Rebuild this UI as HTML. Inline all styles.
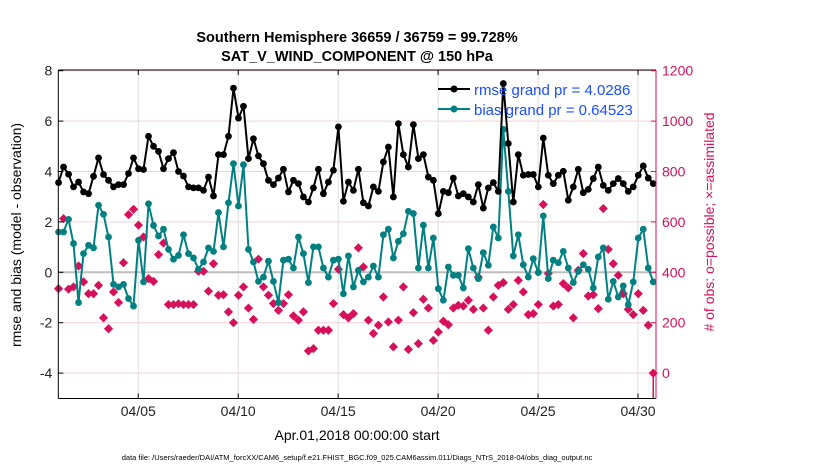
<!DOCTYPE html>
<html><head><meta charset="utf-8"><style>
body{margin:0;background:#fff;}
svg{display:block;font-family:"Liberation Sans",sans-serif;}
</style></head><body>
<svg id="chart" width="830" height="470" viewBox="0 0 830 470" xmlns="http://www.w3.org/2000/svg">
<rect width="830" height="470" fill="#fff"/>
<text x="357" y="42" text-anchor="middle" font-size="14.5" font-weight="bold">Southern Hemisphere 36659 / 36759 = 99.728%</text>
<text x="357" y="61" text-anchor="middle" font-size="14.5" font-weight="bold">SAT_V_WIND_COMPONENT @ 150 hPa</text>
<g id="grid"></g>
<g id="marks"></g>
<g id="axes"></g>
<text transform="translate(21,235) rotate(-90)" text-anchor="middle" font-size="14">rmse and bias (model - observation)</text>
<text transform="translate(714,222) rotate(-90)" text-anchor="middle" font-size="14" fill="#d6105a"># of obs: o=possible; ×=assimilated</text>
<text x="357" y="440" text-anchor="middle" font-size="14">Apr.01,2018 00:00:00 start</text>
<text x="357" y="460" text-anchor="middle" font-size="7.5">data file: /Users/raeder/DAI/ATM_forcXX/CAM6_setup/f.e21.FHIST_BGC.f09_025.CAM6assim.011/Diags_NTrS_2018-04/obs_diag_output.nc</text>
<g>
<line x1="438" y1="89" x2="470" y2="89" stroke="#000" stroke-width="2"/>
<circle cx="454" cy="89" r="3.5" fill="#000"/>
<text x="474" y="95" font-size="15" fill="#1a4dff">rmse grand pr = 4.0286</text>
<line x1="438" y1="109" x2="470" y2="109" stroke="#008080" stroke-width="2"/>
<circle cx="454" cy="109" r="3.5" fill="#008080"/>
<text x="474" y="115" font-size="15" fill="#1a4dff">bias grand pr = 0.64523</text>
</g>
</svg>
<script>
const rmse = [3.56,4.18,3.89,3.39,3.58,3.19,3.12,3.81,4.54,3.88,3.65,3.39,3.48,3.48,3.92,4.54,4.11,4.08,5.40,5.0,4.80,4.11,4.51,4.75,4.0,3.82,3.39,3.35,3.35,
3.25,3.78,3.03,4.67,4.67,5.40,7.31,6.12,6.59,4.51,5.30,4.62,4.31,3.65,3.48,3.74,4.09,3.19,3.65,3.52,2.99,2.79,3.35,4.09,3.12,3.58,4.05,5.77,2.82,3.58,
3.25,4.09,2.76,2.63,3.39,3.21,4.38,4.97,2.99,5.90,4.67,4.18,5.86,4.51,4.67,3.78,3.65,2.33,3.21,3.16,3.74,3.03,3.12,2.99,2.79,3.48,2.55,3.35,3.56,
3.21,7.49,5.11,2.79,4.67,3.85,3.88,3.88,3.39,5.33,3.85,3.52,3.85,4.01,2.86,3.39,4.09,3.16,3.29,3.72,4.18,3.45,3.25,3.52,3.72,3.52,3.21,3.39,3.85,4.22,3.74,3.52];
const bias = [1.60,1.60,2.10,1.14,-1.20,0.74,1.07,0.97,2.66,2.30,1.40,-0.48,-0.58,-0.48,-1.04,-1.34,1.27,-0.38,2.72,1.86,1.44,1.71,0.91,0.52,0.67,1.49,0.74,0.57,0.12,
0.41,0.97,0.83,2.37,1.01,2.76,4.31,2.63,4.27,0.91,0.41,-0.36,-0.19,0.44,-0.36,-1.20,0.48,0.52,0.17,1.40,0.74,-0.41,1.01,1.01,0.17,-0.19,0.48,0.52,-0.85,0.65,
-0.58,0.08,-0.38,-0.19,0.25,-0.19,1.49,1.71,0.57,1.23,1.53,2.42,2.33,0.17,1.87,0.17,1.36,-0.65,-1.11,0.21,-0.12,-0.12,-0.62,0.94,0.17,-0.25,0.78,0.28,1.80,
1.36,5.67,3.21,0.65,1.49,0.30,-0.19,0.54,-0.01,2.24,-0.25,0.48,0.38,0.83,0.17,-0.41,0.04,0.30,0.12,-0.62,0.61,0.97,-1.07,-0.36,-0.98,-0.54,-1.28,-0.38,1.36,1.71,0.17,-0.38];
const nobs = [335,613,333,342,425,362,315,315,348,219,176,322,280,438,629,650,587,540,375,364,470,516,272,272,275,272,272,272,404,
404,325,434,309,311,243,200,309,342,258,213,452,342,309,276,249,276,311,227,210,243,88,97,170,170,170,276,412,232,219,
236,497,421,210,157,190,302,203,104,210,342,94,240,117,293,258,130,163,206,192,258,269,266,289,253,381,258,170,302,
348,359,253,272,368,322,232,236,272,669,395,266,272,355,338,219,408,474,306,311,256,653,491,434,388,315,253,232,315,249,190,0];
const xTickDays = [5,10,15,20,25,30];
const xTickLabels = ["04/05","04/10","04/15","04/20","04/25","04/30"];
const leftTicks = [8,6,4,2,0,-2,-4];
const rightTicks = [1200,1000,800,600,400,200,0];

const NS="http://www.w3.org/2000/svg";
const X0=58.3, X1=656, Y0=70, Y1=398.5;
const dayStart=1.0, dayEnd=30.9;
function xDay(d){return X0+(d-dayStart)/(dayEnd-dayStart)*(X1-X0);}
function xIdx(i){return xDay(dayStart+0.0125+i*0.25);}
function yL(v){return 272.3-v*25.2;}
function yR(n){return yL((n-400)/100);}
function mk(tag,attrs,parent){const e=document.createElementNS(NS,tag);for(const k in attrs)e.setAttribute(k,attrs[k]);parent.appendChild(e);return e;}
const grid=document.getElementById('grid'), marks=document.getElementById('marks'), axes=document.getElementById('axes');

leftTicks.forEach(v=>{
  if(v===0) return;
  const l=mk('line',{x1:X0,x2:X1,y1:yL(v),y2:yL(v),stroke:'#f3cfdc','stroke-width':1},grid);
  
  
});
xTickDays.forEach(d=>{
  const l=mk('line',{x1:xDay(d),x2:xDay(d),y1:Y0,y2:Y1,stroke:'#dcdcdc','stroke-width':1},grid);
  
  
});
const zl=mk('line',{x1:X0,x2:X1,y1:yL(0),y2:yL(0),stroke:'#bdbdbd','stroke-width':2},grid);



nobs.forEach((n,i)=>{
  const x=xIdx(i), y=yR(n), s=4.6;
  const p=mk('path',{d:`M${x} ${y-s}L${x+s} ${y}L${x} ${y+s}L${x-s} ${y}Z`,fill:'#d6105a'},marks);
  
  
});
const stem=mk('line',{x1:xIdx(nobs.length-1),x2:xIdx(nobs.length-1),y1:yR(nobs[nobs.length-1]),y2:Y1,stroke:'#d6105a','stroke-width':1.5},marks);



function series(vals,color,name){
  const pts=vals.map((v,i)=>xIdx(i).toFixed(1)+','+yL(v).toFixed(1)).join(' ');
  const pl=mk('polyline',{points:pts,fill:'none',stroke:color,'stroke-width':2,'stroke-linejoin':'round'},marks);
  
  
  vals.forEach((v,i)=>{
    const c=mk('circle',{cx:xIdx(i),cy:yL(v),r:3.4,fill:color},marks);
    
    
  });
}
series(bias,'#008080','bias');
series(rmse,'#000','rmse');

const frame=[[X0,Y0,X1,Y0,'#000'],[X0,Y1,X1,Y1,'#000'],[X0,Y0,X0,Y1,'#000'],[X1,Y0,X1,Y1,'#d6105a']];
frame.forEach(f=>{
  const l=mk('line',{x1:f[0],y1:f[1],x2:f[2],y2:f[3],stroke:f[4],'stroke-width':1},axes);
  
  
});
leftTicks.forEach(v=>{
  const l=mk('line',{x1:X0,x2:X0+5,y1:yL(v),y2:yL(v),stroke:'#000'},axes);
  
  
  const t=mk('text',{x:X0-6,y:yL(v)+5,'text-anchor':'end','font-size':14,fill:'#222'},axes);
  t.textContent=v;
  
  
});
rightTicks.forEach(n=>{
  const l=mk('line',{x1:X1-5,x2:X1,y1:yR(n),y2:yR(n),stroke:'#d6105a'},axes);
  
  
  const t=mk('text',{x:X1+6,y:yR(n)+5,'font-size':14,fill:'#d6105a'},axes);
  t.textContent=n;
  
  
});
xTickDays.forEach((d,k)=>{
  mk('line',{x1:xDay(d),x2:xDay(d),y1:Y1,y2:Y1-5,stroke:'#000'},axes);
  mk('line',{x1:xDay(d),x2:xDay(d),y1:Y0,y2:Y0+5,stroke:'#000'},axes);
  const t=mk('text',{x:xDay(d),y:416,'text-anchor':'middle','font-size':14,fill:'#222'},axes);
  t.textContent=xTickLabels[k];
  
  
});
</script>
</body></html>
